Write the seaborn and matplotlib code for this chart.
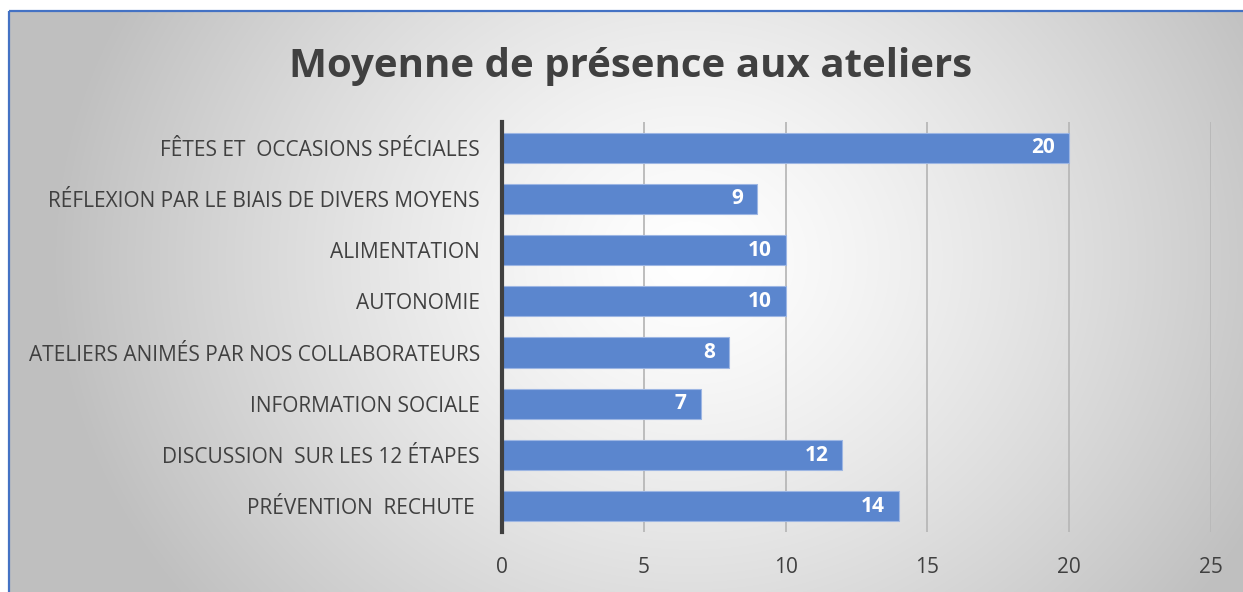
import numpy as np
import pandas as pd
import matplotlib
matplotlib.use("Agg")
import matplotlib.pyplot as plt
import seaborn as sns
from matplotlib.patches import Rectangle

# ----------------------- Data -----------------------
categories = [
    "FÊTES ET  OCCASIONS SPÉCIALES",
    "RÉFLEXION PAR LE BIAIS DE DIVERS MOYENS",
    "ALIMENTATION",
    "AUTONOMIE",
    "ATELIERS ANIMÉS PAR NOS COLLABORATEURS",
    "INFORMATION SOCIALE",
    "DISCUSSION  SUR LES 12 ÉTAPES",
    "PRÉVENTION  RECHUTE ",
]
values = [20, 9, 10, 10, 8, 7, 12, 14]
x_ticks = [0, 5, 10, 15, 20, 25]
title = "Moyenne de présence aux ateliers"

df = pd.DataFrame({"atelier": categories, "moyenne": values})

# ----------------------- Style -----------------------
sns.set_theme(style="white")
plt.rcParams["font.family"] = ["Open Sans", "DejaVu Sans"]

W, H = 1243, 592
fig = plt.figure(figsize=(W / 100, H / 100), dpi=100)

# radial gradient background inside the chart frame
bg = fig.add_axes([0, 0, 1, 1], zorder=0)
bg.set_xlim(0, W)
bg.set_ylim(H, 0)
bg.axis("off")
yy, xx = np.mgrid[0:H, 0:W]
cx, cy = 690, 260
d = np.sqrt(((xx - cx) / 640.0) ** 2 + ((yy - cy) / 560.0) ** 2)
d = np.clip(d, 0, 1)
shade = 1.0 - 0.25 * d ** 1.3
img = np.dstack([shade, shade, shade])
img[:11, :, :] = 1.0
img[:, :9, :] = 1.0
bg.imshow(img, extent=(0, W, H, 0), aspect="auto", interpolation="bilinear")
bg.add_patch(Rectangle((9, 11), W + 20, H + 20, fill=False,
                       edgecolor="#4472C4", linewidth=1.6))

# ----------------------- Bars -----------------------
ax = fig.add_axes([0.4039, 0.1014, 0.5704, 0.6925], zorder=1)
ax.patch.set_alpha(0)
sns.barplot(data=df, x="moyenne", y="atelier", orient="h", color="#5B86CE",
            saturation=1, width=0.59, edgecolor="#9DB6E3", linewidth=0.8, ax=ax)

ax.set_xlim(0, 25)
ax.set_xticks(x_ticks)
ax.xaxis.grid(True, color="#B8B8B8", linewidth=1.3)
ax.set_axisbelow(True)
ax.set_xlabel("")
ax.set_ylabel("")
for s in ["top", "right", "bottom"]:
    ax.spines[s].set_visible(False)
ax.spines["left"].set_color("#404040")
ax.spines["left"].set_linewidth(3)
ax.tick_params(axis="y", length=0, pad=16, labelsize=15, labelcolor="#404040")
ax.tick_params(axis="x", length=0, pad=18, labelsize=15, labelcolor="#404040")

for p, v in zip(ax.patches, values):
    ax.text(p.get_width() - 0.5, p.get_y() + p.get_height() / 2, str(v),
            ha="right", va="center", color="white", fontsize=15,
            fontweight="bold")

fig.text(0.507, 0.888, title, ha="center", va="center", fontsize=29,
         fontweight="bold", color="#404040")

fig.savefig("out.png", dpi=100)
